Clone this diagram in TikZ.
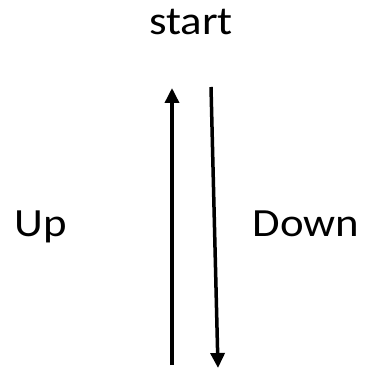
\documentclass[tikz,border=0pt]{standalone}
\usepackage{fontspec}
\setmainfont{Carlito}
\usetikzlibrary{arrows.meta}
\newcommand{\wide}[1]{\scalebox{1.12}[1]{#1}}
\begin{document}
\begin{tikzpicture}[x=1pt,y=-1pt,
  lbl/.style={font=\fontsize{40}{44}\selectfont, inner sep=0pt, anchor=base},
  arr/.style={line width=3.5pt, -{Triangle[width=14pt,length=15pt]}}]
\useasboundingbox (0,0) rectangle (367,371);
\node[lbl] (start) at (191,35) {\wide{start}};
\node[lbl] (up) at (41,236) {\wide{Up}};
\node[lbl] (down) at (306,236) {\wide{Down}};
\coordinate (ub) at (172,365);
\coordinate (ut) at (172,88);
\coordinate (dt) at (211,87);
\coordinate (db) at (218,368);
\draw[arr] (ub) -- (ut);
\draw[arr] (dt) -- (db);
\end{tikzpicture}
\end{document}
